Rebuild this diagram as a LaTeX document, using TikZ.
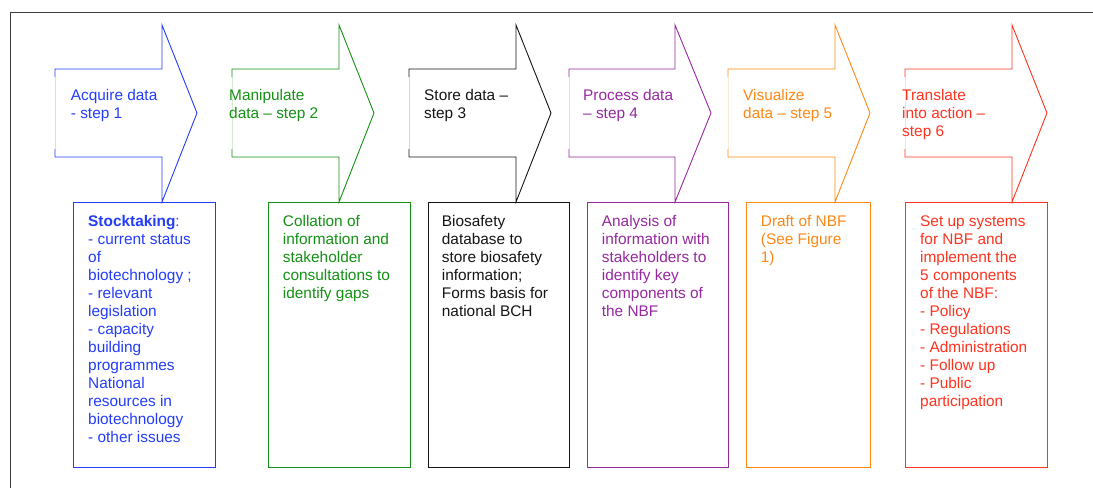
\documentclass[tikz,border=0pt]{standalone}
\usepackage{fontspec}
\setmainfont{Liberation Sans}
\definecolor{cblue}{RGB}{35,60,250}
\definecolor{cgreen}{RGB}{20,145,20}
\definecolor{cblack}{RGB}{20,20,20}
\definecolor{cpurple}{RGB}{150,40,160}
\definecolor{corange}{RGB}{255,135,20}
\definecolor{cred}{RGB}{255,50,30}
\definecolor{cframe}{RGB}{60,60,60}
\newcommand\mystepshape[4]{% color, L, H, T
  \draw[#1, line width=0.9pt, line join=miter] (#2,77) -- (#2,69) -- (#3,69) -- (#3,25) -- (#4,113) -- (#3,202) -- (#3,157) -- (#2,157) -- (#2,149);
  \draw[#1!18, line width=0.6pt] (#2,77) -- (#2,149);
}
\newcommand\mytxt[2]{\parbox[t]{#1}{\raggedright #2}}
\tikzset{
  boxnode/.style={draw, line width=0.9pt, minimum height=265pt, anchor=north west, inner sep=0pt},
  txtnode/.style={anchor=base west, inner sep=0pt, font=\fontsize{15.4}{18}\selectfont},
}
\begin{document}
\begin{tikzpicture}[x=1pt,y=-1pt]
\useasboundingbox (0,0) rectangle (1093,488);
\draw[cframe, line width=1pt] (10,488) -- (10,12) -- (1093,12);
% arrows
\mystepshape{cblue}{55}{162}{197}
\mystepshape{cgreen}{232}{339}{374}
\mystepshape{cblack}{409}{516}{551}
\mystepshape{cpurple}{569}{675}{711}
\mystepshape{corange}{728}{835}{870}
\mystepshape{cred}{905}{1012}{1047}
% arrow labels
\node[txtnode, text=cblue] (a1) at (70.7,100) {\mytxt{120pt}{Acquire data\\- step 1}};
\node[txtnode, text=cgreen] (a2) at (229,100) {\mytxt{120pt}{Manipulate\\data – step 2}};
\node[txtnode, text=cblack] (a3) at (424,100) {\mytxt{120pt}{Store data –\\step 3}};
\node[txtnode, text=cpurple] (a4) at (583,100) {\mytxt{120pt}{Process data\\– step 4}};
\node[txtnode, text=corange] (a5) at (743,100) {\mytxt{120pt}{Visualize\\data – step 5}};
\node[txtnode, text=cred] (a6) at (902,100) {\mytxt{120pt}{Translate\\into action –\\step 6}};
% boxes
\node[boxnode, draw=cblue, minimum width=142pt] (b1) at (73,202) {};
\node[boxnode, draw=cgreen, minimum width=142pt] (b2) at (268,202) {};
\node[boxnode, draw=cblack, minimum width=141pt] (b3) at (428,202) {};
\node[boxnode, draw=cpurple, minimum width=141pt] (b4) at (587,202) {};
\node[boxnode, draw=corange, minimum width=124pt] (b5) at (746,202) {};
\node[boxnode, draw=cred, minimum width=142pt] (b6) at (905,202) {};
% box texts
\node[txtnode, text=cblue] (t1) at (88,226) {\mytxt{118pt}{\textbf{Stocktaking}:\\- current status\\of\\biotechnology ;\\- relevant\\legislation\\- capacity\\building\\programmes\\National\\resources in\\biotechnology\\- other issues}};
\node[txtnode, text=cgreen] (t2) at (282.7,226) {\mytxt{118pt}{Collation of\\information and\\stakeholder\\consultations to\\identify gaps}};
\node[txtnode, text=cblack] (t3) at (441.7,226) {\mytxt{118pt}{Biosafety\\database to\\store biosafety\\information;\\Forms basis for\\national BCH}};
\node[txtnode, text=cpurple] (t4) at (601.7,226) {\mytxt{118pt}{Analysis of\\information with\\stakeholders to\\identify key\\components of\\the NBF}};
\node[txtnode, text=corange] (t5) at (760.7,226) {\mytxt{100pt}{Draft of NBF\\(See Figure\\1)}};
\node[txtnode, text=cred] (t6) at (920,226) {\mytxt{118pt}{Set up systems\\for NBF and\\implement the\\5 components\\of the NBF:\\- Policy\\- Regulations\\- Administration\\- Follow up\\- Public\\participation}};
\end{tikzpicture}
\end{document}
